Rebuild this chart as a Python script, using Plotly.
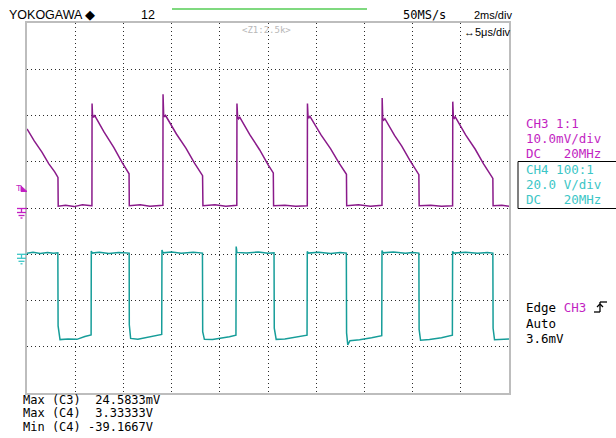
import plotly.graph_objects as go

# CH3: time in ms, amplitude in mV
ch3_t = [0.00, 0.30, 0.62, 0.90, 1.15, 1.27, 1.285, 1.295, 1.60, 1.95, 2.30, 2.68,
         2.694, 2.70, 2.72, 2.76, 2.80, 3.20, 3.60, 3.95, 4.18, 4.235, 4.245, 4.70, 5.10, 5.62,
         5.638, 5.645, 5.67, 5.71, 5.75, 6.20, 6.60, 6.95, 7.20, 7.285, 7.30, 7.80, 8.25, 8.70,
         8.706, 8.712, 8.74, 8.78, 8.82, 9.25, 9.65, 10.00, 10.18, 10.22, 10.232, 10.70, 11.15, 11.62,
         11.63, 11.637, 11.66, 11.70, 11.74, 12.20, 12.60, 12.95, 13.20, 13.255, 13.265, 13.75, 14.25, 14.72,
         14.73, 14.737, 14.76, 14.80, 14.85, 15.25, 15.55, 15.90, 16.17, 16.26, 16.272, 16.75, 17.20, 17.65,
         17.66, 17.667, 17.69, 17.73, 17.77, 18.20, 18.60, 18.95, 19.25, 19.33, 19.34, 19.70, 20.00]
ch3_mv = [17.1, 14.5, 12.1, 9.6, 7.8, 6.7, 6.6, 0.4, 0.6, 0.3, 0.7, 0.5,
          0.5, 22.6, 20.0, 19.6, 20.1, 16.4, 13.1, 9.8, 8.0, 7.4, 0.5, 0.7, 0.4, 0.6,
          0.6, 24.58, 20.2, 19.7, 20.0, 16.0, 12.9, 9.7, 7.8, 7.0, 0.5, 0.7, 0.4, 0.6,
          0.6, 22.6, 19.6, 19.3, 19.7, 15.8, 12.6, 9.4, 8.0, 7.6, 0.5, 0.6, 0.4, 0.5,
          0.5, 22.6, 19.9, 19.5, 19.8, 15.8, 12.8, 9.7, 7.8, 7.3, 0.5, 0.7, 0.4, 0.6,
          0.6, 23.8, 19.4, 19.0, 19.3, 15.7, 13.4, 10.2, 8.1, 7.2, 0.5, 0.6, 0.4, 0.5,
          0.5, 23.0, 19.8, 19.4, 19.7, 15.8, 12.7, 9.5, 7.2, 6.4, 0.5, 0.6, 0.4]

# CH4: time in ms, amplitude in V
ch4_t = [0.00, 0.25, 0.55, 0.85, 1.10, 1.28,
         1.29, 1.33, 1.37, 1.70, 2.07, 2.40, 2.55, 2.66,
         2.668, 2.70, 3.00, 3.40, 3.80, 4.24,
         4.245, 4.30, 4.60, 4.98, 5.30, 5.59,
         5.60, 5.64, 6.00, 6.40, 6.90, 7.28,
         7.29, 7.36, 7.70, 8.02, 8.40, 8.67,
         8.68, 8.71, 9.10, 9.60, 10.00, 10.25,
         10.26, 10.34, 10.70, 11.10, 11.62,
         11.63, 11.67, 12.10, 12.60, 13.00, 13.25,
         13.26, 13.31, 13.40, 13.80, 14.30, 14.72,
         14.73, 14.77, 15.20, 15.70, 16.00, 16.26,
         16.27, 16.33, 16.70, 17.20, 17.65,
         17.66, 17.70, 18.20, 18.70, 19.10, 19.33,
         19.34, 19.40, 19.70, 20.00]
ch4_v = [0.4, 0.9, 0.3, 0.8, 0.4, 0.6,
         -31.0, -35.8, -36.9, -36.6, -36.8, -35.6, -35.0, -34.9,
         1.4, 0.5, 0.9, 0.3, 0.8, 0.5,
         -30.5, -36.4, -36.8, -35.9, -35.3, -34.7,
         1.8, 0.6, 1.0, 0.4, 0.9, 0.5,
         -33.5, -36.8, -36.9, -36.4, -35.7, -35.0,
         3.33, 0.8, 0.5, 1.0, 0.4, 0.6,
         -32.0, -36.8, -36.6, -36.0, -35.0,
         1.2, 0.5, 0.9, 0.3, 0.8, 0.5,
         -34.0, -39.17, -37.4, -37.0, -36.1, -35.2,
         1.6, 0.6, 1.0, 0.4, 0.8, 0.5,
         -32.5, -37.2, -36.9, -36.1, -35.0,
         1.3, 0.5, 0.9, 0.4, 0.8, 0.5,
         -32.0, -37.0, -36.8, -36.6]

top_labels = ["YOKOGAWA ◆", "12", "50MS/s", "2ms/div", "↔5μs/div", "<Z1:2.5k>"]
ch3_info = ["CH3 1:1", "10.0mV/div", "DC   20MHz"]
ch4_info = ["CH4 100:1", "20.0 V/div", "DC   20MHz"]
trig_info = ["Auto", "3.6mV"]
meas_lines = ["Max (C3)  24.5833mV", "Max (C4)  3.33333V", "Min (C4) -39.1667V"]

# ---------------- styling ----------------
W, H = 616, 438
L, R, T, B = 27, 107, 23, 45
PW, PH = W - L - R, H - T - B
C3_TRACE, C3_TEXT = "#8a1a8a", "#c21fc2"
C4_TRACE, C4_TEXT = "#169d99", "#3cc6c6"
MONO = "DejaVu Sans Mono"
SANS = "Liberation Sans"


def fx(px):
    return (px - L) / PW


def fy(py):
    return (H - B - py) / PH


fig = go.Figure()
fig.add_trace(go.Scatter(x=ch4_t, y=ch4_v, mode="lines", yaxis="y2",
                         line=dict(color=C4_TRACE, width=1.5), hoverinfo="skip"))
fig.add_trace(go.Scatter(x=ch3_t, y=ch3_mv, mode="lines",
                         line=dict(color=C3_TRACE, width=1.5), hoverinfo="skip"))

ann = []


def txt(s, px, py, color="black", size=12.5, family=MONO, anchor="left"):
    ann.append(dict(text=s, x=fx(px), y=fy(py), xref="paper", yref="paper",
                    xanchor=anchor, yanchor="middle", showarrow=False,
                    font=dict(color=color, size=size, family=family)))


# top row
txt(top_labels[0], 7, 15, size=12.5, family=SANS)
txt(top_labels[1], 139, 15, size=12.5, family=SANS)
txt(top_labels[2], 401, 15, size=12, family=MONO)
txt(top_labels[3], 472, 15, size=11, family=SANS)
txt(top_labels[4], 462, 32, size=11, family=SANS)
txt(top_labels[5], 240, 30, color="#b8b8b8", size=9, family=MONO)

# right panel
for i, s in enumerate(ch3_info):
    txt(s, 524, 123 + 15.3 * i, color=C3_TEXT)
for i, s in enumerate(ch4_info):
    txt(s, 524, 169 + 15.3 * i, color=C4_TEXT)
txt("Edge <span style='color:%s'>CH3</span>" % C3_TEXT, 524, 307.5)
for i, s in enumerate(trig_info):
    txt(s, 524, 323 + 15 * i)

# bottom measurements
for i, s in enumerate(meas_lines):
    txt(s, 21, 400 + 13.4 * i, size=12)

shapes = []


def seg(x0, y0, x1, y1, color, w=1):
    shapes.append(dict(type="line", xref="paper", yref="paper",
                       x0=fx(x0), y0=fy(y0), x1=fx(x1), y1=fy(y1),
                       line=dict(color=color, width=w)))


# green bar at top
seg(172, 9, 367, 9, "#7fd97f", 2)
# CH4 info box
shapes.append(dict(type="rect", xref="paper", yref="paper",
                   x0=fx(518), y0=fy(208.5), x1=fx(618), y1=fy(161.5),
                   line=dict(color="black", width=1)))


def ground(y, color):
    seg(17, y, 27, y, color, 1.3)
    seg(21.5, y, 21.5, y + 4, color, 1.3)
    seg(17, y + 4, 26, y + 4, color, 1.3)
    seg(18.5, y + 7, 24.5, y + 7, color, 1.3)
    seg(20.5, y + 9.5, 22.5, y + 9.5, color, 1.3)


ground(208.5, C3_TEXT)
ground(254.3, C4_TEXT)
# trigger level marker
txt("T", 14, 187.5, color=C3_TEXT, size=9, family=SANS)
shapes.append(dict(type="path", xref="paper", yref="paper",
                   path="M %f %f L %f %f L %f %f Z" % (fx(21), fy(186), fx(27), fy(191.5), fx(21), fy(191.5)),
                   fillcolor=C3_TEXT, line=dict(color=C3_TEXT, width=1)))
# trigger slope symbol
seg(594, 312, 600, 312, "black", 1.3)
seg(600, 312, 600, 302, "black", 1.3)
seg(600, 302, 607, 302, "black", 1.3)
seg(597, 307, 600, 304, "black", 1.3)
seg(603, 307, 600, 304, "black", 1.3)

grid = dict(showgrid=True, gridcolor="#2a2a2a", griddash="1px,3px", gridwidth=1,
            zeroline=False, showticklabels=False, ticks="",
            showline=True, linecolor="#bdbdbd", linewidth=1.5, mirror=True)

fig.update_layout(
    width=W, height=H,
    margin=dict(l=L, r=R, t=T, b=B, pad=0),
    paper_bgcolor="white", plot_bgcolor="white",
    showlegend=False,
    xaxis=dict(range=[0, 20], dtick=2, **grid),
    yaxis=dict(range=[-40, 40], dtick=10, **grid),
    yaxis2=dict(range=[-60, 100], overlaying="y", visible=False, showgrid=False),
    annotations=ann, shapes=shapes,
)

fig.write_html("out.html", config={"displayModeBar": False},
               post_script="document.body.style.margin='0';")
